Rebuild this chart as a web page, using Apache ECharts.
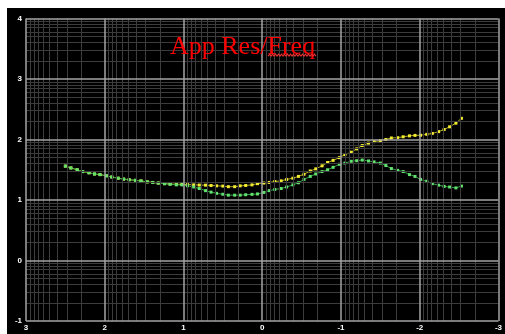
<!DOCTYPE html>
<html>
<head>
<meta charset="utf-8">
<script src="https://cdn.jsdelivr.net/npm/echarts@6/dist/echarts.min.js"></script>
<style>
  html, body { margin: 0; padding: 0; background: #ffffff; width: 505px; height: 334px; overflow: hidden; }
  #chart { position: absolute; left: 7px; top: 8px; width: 498px; height: 326px; }
</style>
</head>
<body>
<div id="chart"></div>
<script>
// log10 frequency positions (axis runs from 3 down to -3)
const logFreq = [
  2.50, 2.43, 2.35, 2.28, 2.20, 2.13, 2.06, 1.98, 1.91, 1.83,
  1.76, 1.69, 1.61, 1.54, 1.46, 1.39, 1.32, 1.24, 1.17, 1.09,
  1.02, 0.95, 0.87, 0.80, 0.72, 0.65, 0.58, 0.50, 0.43, 0.35,
  0.28, 0.21, 0.13, 0.06, -0.02, -0.09, -0.16, -0.24, -0.31, -0.39,
  -0.46, -0.53, -0.61, -0.68, -0.76, -0.83, -0.90, -0.98, -1.05, -1.13,
  -1.20, -1.27, -1.35, -1.42, -1.50, -1.57, -1.64, -1.72, -1.79, -1.87,
  -1.94, -2.01, -2.09, -2.16, -2.24, -2.31, -2.38, -2.46, -2.53
];

// log10 apparent resistivity, yellow curve
const resYellow = [
  1.56, 1.53, 1.50, 1.47, 1.45, 1.43, 1.42, 1.40, 1.38, 1.36,
  1.345, 1.335, 1.325, 1.315, 1.30, 1.29, 1.28, 1.27, 1.265, 1.26,
  1.26, 1.255, 1.25, 1.247, 1.245, 1.24, 1.234, 1.23, 1.22, 1.22,
  1.234, 1.24, 1.25, 1.27, 1.28, 1.29, 1.305, 1.317, 1.34, 1.36,
  1.39, 1.425, 1.48, 1.515, 1.565, 1.62, 1.655, 1.70, 1.75, 1.79,
  1.845, 1.90, 1.94, 1.965, 1.98, 2.00, 2.025, 2.03, 2.045, 2.06,
  2.068, 2.07, 2.085, 2.10, 2.13, 2.165, 2.21, 2.27, 2.35
];

// log10 apparent resistivity, green curve
const resGreen = [
  1.56, 1.53, 1.50, 1.47, 1.45, 1.43, 1.42, 1.40, 1.38, 1.36,
  1.345, 1.335, 1.325, 1.315, 1.30, 1.29, 1.28, 1.27, 1.26, 1.25,
  1.25, 1.235, 1.215, 1.19, 1.155, 1.13, 1.11, 1.095, 1.08, 1.08,
  1.08, 1.087, 1.093, 1.10, 1.125, 1.155, 1.175, 1.19, 1.215, 1.25,
  1.285, 1.34, 1.39, 1.43, 1.47, 1.50, 1.54, 1.59, 1.61, 1.64,
  1.65, 1.66, 1.645, 1.63, 1.61, 1.57, 1.52, 1.49, 1.47, 1.42,
  1.39, 1.34, 1.31, 1.27, 1.245, 1.225, 1.215, 1.20, 1.23
];

const xTicks = [3, 2, 1, 0, -1, -2, -3];
const yTicks = [4, 3, 2, 1, 0, -1];
const titleText = 'App Res/Freq';

// decade sub-divisions (log10 of 2..9) between each pair of major ticks
function minorLines(ticks) {
  const lo = Math.min(...ticks), hi = Math.max(...ticks);
  const out = [];
  for (let d = lo; d < hi; d++) {
    for (let k = 2; k <= 9; k++) out.push(d + Math.log10(k));
  }
  return out;
}

const minorStyle = { color: '#3c3c3c', width: 1, type: 'solid' };
const majorStyle = { color: '#a4a4a4', width: 1.5, type: 'solid' };
const gridMarks = [];
minorLines(xTicks).forEach(v => gridMarks.push({ xAxis: v, lineStyle: minorStyle }));
minorLines(yTicks).forEach(v => gridMarks.push({ yAxis: v, lineStyle: minorStyle }));
xTicks.forEach(v => gridMarks.push({ xAxis: v, lineStyle: majorStyle }));
yTicks.forEach(v => gridMarks.push({ yAxis: v, lineStyle: majorStyle }));

const chart = echarts.init(document.getElementById('chart'), null, { renderer: 'canvas' });

// wavy spell-check underline beneath "Freq"
const squiggle = [];
for (let px = 261; px <= 309; px += 1.5) {
  squiggle.push([px, 47.2 + ((Math.round((px - 261) / 1.5) % 2) ? -1 : 1)]);
}

chart.setOption({
  backgroundColor: '#000000',
  animation: false,
  grid: { left: 19, top: 10.5, right: 4.3, bottom: 13, containLabel: false },
  xAxis: {
    type: 'value', inverse: true, min: -3, max: 3, interval: 1,
    axisLine: { show: false }, axisTick: { show: false }, splitLine: { show: false },
    axisLabel: { color: '#ffffff', fontSize: 8, fontWeight: 'bold', fontFamily: 'Liberation Sans', margin: 3 }
  },
  yAxis: {
    type: 'value', min: -1, max: 4, interval: 1,
    axisLine: { show: false }, axisTick: { show: false }, splitLine: { show: false },
    axisLabel: { color: '#ffffff', fontSize: 8, fontWeight: 'bold', fontFamily: 'Liberation Sans', margin: 4 }
  },
  graphic: [
    {
      type: 'text', left: 163, top: 26, z: 100,
      style: { text: titleText, fill: '#ff0000', font: '26px "Liberation Serif"' }
    },
    {
      type: 'polyline', z: 100,
      shape: { points: squiggle },
      style: { stroke: '#e83030', lineWidth: 1.1, fill: null }
    }
  ],
  series: [
    {
      type: 'line', data: [], z: 1, silent: true,
      markLine: { silent: true, symbol: ['none', 'none'], label: { show: false }, data: gridMarks, animation: false }
    },
    {
      name: 'yellow', type: 'line', z: 3,
      data: logFreq.map((x, i) => [x, resYellow[i]]),
      symbol: 'rect', symbolSize: 3, showSymbol: true,
      lineStyle: { color: '#b4ae22', width: 1 },
      itemStyle: { color: '#f2ea32' }
    },
    {
      name: 'green', type: 'line', z: 3,
      data: logFreq.map((x, i) => [x, resGreen[i]]),
      symbol: 'rect', symbolSize: 3, showSymbol: true,
      lineStyle: { color: '#36a044', width: 1 },
      itemStyle: { color: '#62e070' }
    }
  ]
});
</script>
</body>
</html>
